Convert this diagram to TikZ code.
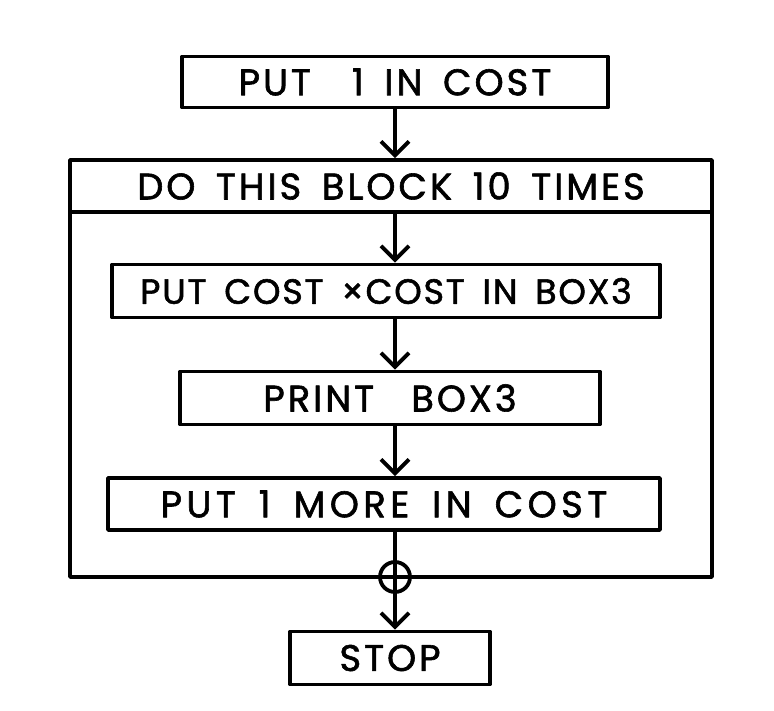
\documentclass[tikz,border=0pt]{standalone}
\usepackage{fontspec}
\setmainfont{Poppins}[LetterSpace=8, WordSpace=1.6, FakeBold=1.6]
\usetikzlibrary{positioning, arrows.meta}

\begin{document}
\begin{tikzpicture}[
  x=1pt, y=-1pt,
  font=\fontsize{37}{40}\selectfont,
  line width=3.8pt, line join=round,
  >={Straight Barb[length=14pt, width=28pt, line width=3.8pt]},
  box/.style   ={draw, rectangle, inner sep=0pt, align=center},
  merge/.style ={draw, circle, minimum size=30pt, inner sep=0pt},
  arr/.style   ={->},
]
\useasboundingbox (0,0) rectangle (774,710);

% ---- start ----
\node[box, minimum width=426pt, minimum height=51pt] (init) at (395,82) {PUT\ \ 1 IN COST};

% ---- the repeated block ----
\node[box, minimum width=642pt, minimum height=52pt] (hdr) at (391,186) {DO THIS BLOCK 10 TIMES};
\node[box, minimum width=642pt, minimum height=365pt] (blk) at (391,394.5) {};

\node[box, minimum width=548pt, minimum height=53pt, font=\fontsize{35}{40}\selectfont\addfontfeature{LetterSpace=5}] (sq) at (386,291) {PUT COST ×COST IN BOX3};
\node[box, minimum width=420pt, minimum height=53pt] (prt) at (390,398) {PRINT\quad BOX3};
\node[box, minimum width=552pt, minimum height=52pt, font=\fontsize{37}{40}\selectfont\addfontfeature{LetterSpace=12}] (inc) at (384,504) {PUT 1 MORE IN COST};

% ---- exit ----
\node[merge] (jn) at (395,577) {};
\node[box, minimum width=200pt, minimum height=53pt] (stop) at (390,658) {STOP};

\draw[arr] (init) -- (init |- hdr.north);
\draw[arr] (hdr.south -| init) -- (sq.north -| init);
\draw[arr] (sq.south -| init) -- (prt.north -| init);
\draw[arr] (prt.south -| init) -- (inc.north -| init);
\draw (inc.south -| jn) -- (jn.south);
\draw[arr] (jn.south) -- (stop.north -| jn);

\end{tikzpicture}
\end{document}
